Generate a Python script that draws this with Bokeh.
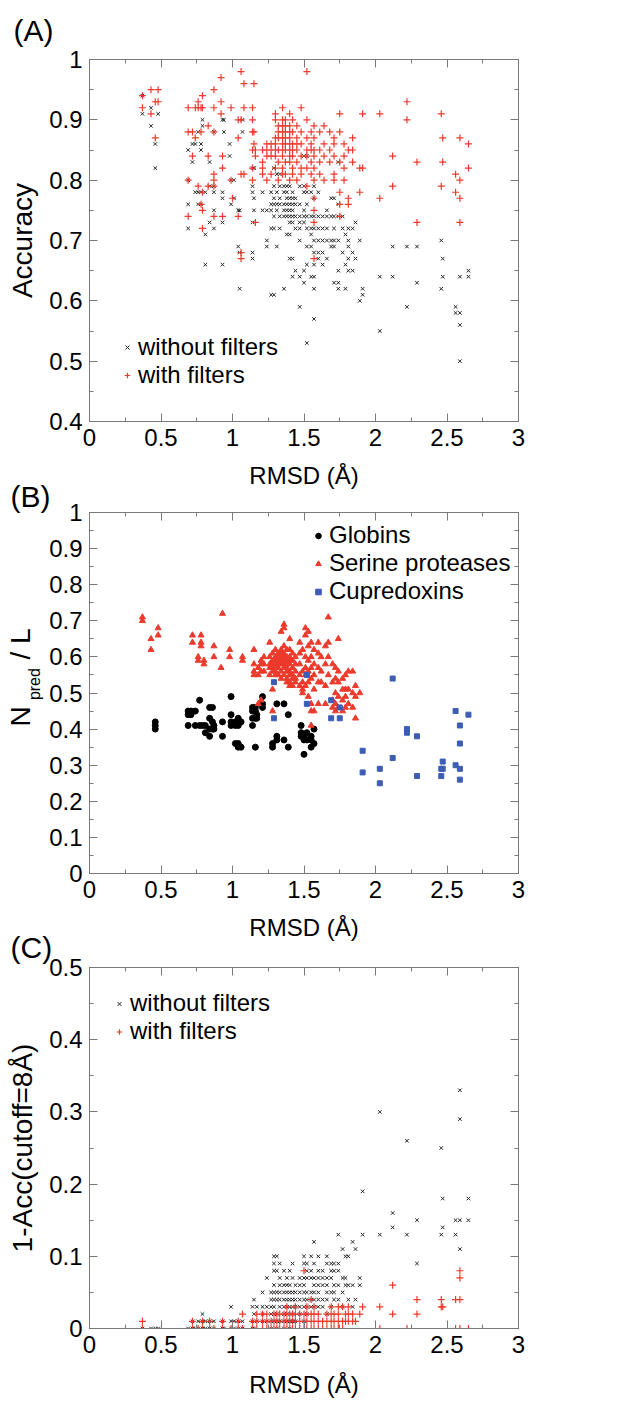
from bokeh.plotting import figure
from bokeh.models import (FixedTicker, CustomJSTickFormatter, LinearAxis,
                          Legend, LegendItem, Range1d)
from bokeh.layouts import column
from bokeh.embed import file_html
from bokeh.resources import INLINE

FONT = "Liberation Sans"
RED = "#ec3a2c"
BLACK = "#262626"
BLUE = "#3d5db4"
FRAME = "#7a7a7a"
NB = "\u00a0"

# ---------------- data -----------------
# Panel A: accuracy vs RMSD (columns of RMSD with their accuracy values)
a_nf_rmsd = [0.37, 0.43, 0.46, 0.48, 0.69, 0.72, 0.74, 0.76, 0.78, 0.79, 0.81, 0.84, 0.87,
             0.93, 0.94, 0.98, 0.99, 1.01, 1.04, 1.05, 1.07, 1.14, 1.15, 1.21, 1.24, 1.27,
             1.29, 1.31, 1.33, 1.36, 1.38, 1.40, 1.42, 1.44, 1.47, 1.50, 1.52, 1.55, 1.57,
             1.60, 1.63, 1.66, 1.69, 1.71, 1.74, 1.77, 1.79, 1.81, 1.84, 1.86, 1.89, 1.91,
             2.03, 2.12, 2.22, 2.29, 2.46, 2.47, 2.56, 2.59, 2.65]
a_nf_acc = [[0.94, 0.91], [0.92, 0.89], [0.86, 0.82], [0.91], [0.85, 0.80, 0.76, 0.72],
            [0.86, 0.83], [0.86, 0.78], [0.88, 0.78, 0.76], [0.86, 0.85, 0.78, 0.76],
            [0.90, 0.89], [0.78, 0.71, 0.66], [0.83, 0.79, 0.73], [0.88, 0.79, 0.78, 0.75, 0.72],
            [0.90, 0.78, 0.77, 0.73, 0.66], [0.90, 0.88], [0.86, 0.84], [0.80, 0.76], [0.80, 0.77],
            [0.75, 0.69], [0.75, 0.68, 0.62], [0.90, 0.88], [0.82, 0.79, 0.78, 0.73, 0.68, 0.67],
            [0.82, 0.77, 0.75], [0.78, 0.75], [0.75, 0.70, 0.69], [0.78, 0.76, 0.75, 0.72, 0.61],
            [0.82, 0.79, 0.77, 0.76, 0.74, 0.72, 0.61], [0.81, 0.78, 0.76, 0.75, 0.69],
            [0.81, 0.79, 0.77, 0.76, 0.74, 0.72], [0.79, 0.78, 0.76, 0.75, 0.74, 0.62],
            [0.79, 0.78, 0.77, 0.76, 0.75, 0.74, 0.71], [0.79, 0.77, 0.76, 0.75, 0.74, 0.73, 0.71, 0.67],
            [0.78, 0.77, 0.76, 0.75, 0.74, 0.73, 0.67, 0.64], [0.77, 0.76, 0.74, 0.72, 0.65],
            [0.79, 0.76, 0.74, 0.73, 0.72, 0.70, 0.64, 0.59], [0.84, 0.79, 0.78, 0.75, 0.74, 0.73, 0.65, 0.63],
            [0.84, 0.78, 0.76, 0.74, 0.72, 0.69, 0.66, 0.53], [0.78, 0.74, 0.72, 0.71, 0.69, 0.64],
            [0.79, 0.77, 0.74, 0.72, 0.70, 0.68, 0.66, 0.64, 0.62, 0.57], [0.78, 0.74, 0.72, 0.70, 0.68, 0.67],
            [0.74, 0.72, 0.70, 0.68, 0.66], [0.75, 0.74, 0.72, 0.70, 0.67], [0.77, 0.74, 0.70, 0.69],
            [0.77, 0.74, 0.72, 0.70, 0.69, 0.63], [0.83, 0.76, 0.74, 0.70, 0.65, 0.63, 0.62],
            [0.74, 0.72, 0.68], [0.71, 0.66, 0.62], [0.72, 0.70, 0.69, 0.67, 0.65], [0.72, 0.68, 0.65],
            [0.73, 0.67], [0.70, 0.60], [0.62, 0.61], [0.64, 0.55], [0.69, 0.64], [0.69, 0.59],
            [0.69, 0.63], [0.70, 0.62], [0.67, 0.64], [0.59, 0.58], [0.64, 0.58, 0.56, 0.50], [0.65, 0.64]]

a_wf_rmsd = [0.37, 0.43, 0.46, 0.48, 0.69, 0.72, 0.74, 0.76, 0.78, 0.79, 0.83, 0.87, 0.92, 0.93,
             0.99, 1.00, 1.04, 1.06, 1.08, 1.14, 1.15, 1.16, 1.21, 1.24, 1.27, 1.30, 1.32, 1.35,
             1.37, 1.40, 1.42, 1.45, 1.48, 1.52, 1.55, 1.57, 1.61, 1.64, 1.68, 1.71, 1.75, 1.78,
             1.81, 1.84, 1.89, 1.91, 2.03, 2.12, 2.22, 2.29, 2.46, 2.47, 2.56, 2.59, 2.65]
a_wf_acc = [[0.94, 0.92], [0.95, 0.91], [0.93, 0.87], [0.95, 0.93], [0.92, 0.88, 0.80, 0.74],
            [0.88, 0.84], [0.92, 0.87], [0.93, 0.92, 0.79], [0.92, 0.88, 0.76],
            [0.94, 0.92, 0.78, 0.75, 0.72], [0.89, 0.84, 0.79], [0.95, 0.92, 0.88, 0.81, 0.80, 0.79, 0.74],
            [0.97, 0.93, 0.91], [0.84, 0.82, 0.74], [0.92, 0.80], [0.77], [0.90, 0.87, 0.74],
            [0.98, 0.90, 0.81, 0.68, 0.67], [0.96, 0.92, 0.81], [0.92, 0.90, 0.88, 0.85, 0.82, 0.80],
            [0.96, 0.88, 0.86], [0.85, 0.84, 0.73], [0.85, 0.83, 0.82, 0.81], [0.86, 0.85, 0.84, 0.80],
            [0.86, 0.85, 0.84, 0.81], [0.91, 0.90, 0.87, 0.86, 0.85, 0.84, 0.82],
            [0.89, 0.88, 0.87, 0.85, 0.83, 0.80], [0.92, 0.90, 0.89, 0.88, 0.87, 0.86, 0.85, 0.84, 0.82, 0.81],
            [0.90, 0.89, 0.88, 0.87, 0.86, 0.85, 0.83, 0.81], [0.91, 0.89, 0.88, 0.87, 0.86, 0.85, 0.84, 0.83, 0.80],
            [0.90, 0.88, 0.86, 0.85, 0.84, 0.82, 0.81], [0.89, 0.87, 0.86, 0.85, 0.83, 0.80],
            [0.92, 0.88, 0.86, 0.84, 0.82, 0.81], [0.98, 0.90, 0.87, 0.85, 0.84, 0.82, 0.79],
            [0.88, 0.86, 0.85, 0.83, 0.81], [0.89, 0.87, 0.85, 0.84, 0.82, 0.80, 0.77, 0.75, 0.73, 0.67],
            [0.88, 0.85, 0.83, 0.81], [0.89, 0.86, 0.84, 0.80], [0.88, 0.85, 0.83],
            [0.87, 0.86, 0.84, 0.81, 0.80], [0.91, 0.88, 0.83, 0.78, 0.76, 0.74], [0.86, 0.84, 0.82, 0.80],
            [0.85, 0.77, 0.76], [0.87, 0.85, 0.83], [0.82, 0.78], [0.91, 0.82], [0.91, 0.77],
            [0.84, 0.79], [0.93, 0.90], [0.83, 0.73], [0.91, 0.79], [0.87, 0.83], [0.81, 0.78],
            [0.87, 0.80, 0.77, 0.73], [0.86, 0.82]]

# Panel B: Npred/L vs RMSD per protein family
glob_rmsd = [0.46, 0.69, 0.71, 0.74, 0.77, 0.79, 0.81, 0.84, 0.86, 0.87, 0.93, 0.99, 1.02, 1.04,
             1.06, 1.14, 1.16, 1.17, 1.21, 1.28, 1.31, 1.36, 1.39, 1.48, 1.50, 1.52, 1.55, 1.57]
glob_npl = [[0.42, 0.41, 0.40], [0.45, 0.44, 0.41], [0.45, 0.44], [0.45, 0.41], [0.48, 0.41], [0.41],
            [0.41, 0.39], [0.46, 0.43, 0.40, 0.38], [0.46, 0.42, 0.40], [0.41, 0.40], [0.42, 0.38],
            [0.49, 0.44, 0.42, 0.41], [0.42, 0.41, 0.36], [0.43, 0.41, 0.36, 0.35], [0.42, 0.35],
            [0.46, 0.45, 0.43, 0.41], [0.46, 0.45, 0.43, 0.35], [0.44, 0.43], [0.49, 0.47, 0.46],
            [0.36, 0.35], [0.47, 0.38, 0.37], [0.47, 0.37], [0.44, 0.35], [0.41, 0.39, 0.38],
            [0.38, 0.37, 0.33], [0.39, 0.37], [0.38, 0.37, 0.35], [0.40, 0.36]]

ser_rmsd = [0.37, 0.43, 0.48, 0.72, 0.76, 0.78, 0.80, 0.87, 0.92, 0.93, 0.98, 1.07, 1.15, 1.18,
            1.20, 1.22, 1.26, 1.28, 1.30, 1.32, 1.34, 1.36, 1.38, 1.40, 1.42, 1.44, 1.47, 1.49,
            1.51, 1.53, 1.55, 1.57, 1.60, 1.62, 1.65, 1.67, 1.70, 1.72, 1.74, 1.77, 1.79, 1.81,
            1.84, 1.86, 1.89]
ser_npl = [[0.71, 0.70], [0.65, 0.62], [0.68, 0.66], [0.66, 0.64], [0.60, 0.59], [0.66, 0.64, 0.63],
           [0.59, 0.58], [0.63, 0.60], [0.57], [0.72], [0.62, 0.60], [0.60, 0.59],
           [0.62, 0.58, 0.56, 0.55], [0.57, 0.55, 0.47], [0.59, 0.58, 0.56, 0.48], [0.60, 0.58, 0.56],
           [0.64, 0.60, 0.58, 0.57, 0.55], [0.61, 0.59, 0.58, 0.57, 0.56, 0.51, 0.45],
           [0.62, 0.60, 0.59, 0.58, 0.57, 0.56, 0.55], [0.61, 0.60, 0.59, 0.58, 0.57, 0.55],
           [0.67, 0.62, 0.61, 0.60, 0.59, 0.58, 0.56, 0.54], [0.69, 0.68, 0.63, 0.61, 0.60, 0.59, 0.58, 0.57, 0.55],
           [0.62, 0.60, 0.59, 0.58, 0.57, 0.56, 0.54, 0.53], [0.65, 0.62, 0.60, 0.59, 0.58, 0.56, 0.55, 0.53, 0.52],
           [0.61, 0.59, 0.57, 0.55, 0.54, 0.52], [0.60, 0.58, 0.56, 0.54, 0.53],
           [0.64, 0.61, 0.58, 0.55, 0.52], [0.62, 0.56, 0.53, 0.51, 0.50],
           [0.68, 0.66, 0.60, 0.57, 0.55, 0.52], [0.67, 0.63, 0.59, 0.56, 0.53, 0.49],
           [0.64, 0.60, 0.57, 0.54, 0.47, 0.45, 0.41], [0.62, 0.58, 0.55, 0.51, 0.45],
           [0.64, 0.61, 0.57, 0.53, 0.47], [0.60, 0.56, 0.53], [0.63, 0.58, 0.52, 0.47],
           [0.71, 0.64, 0.60, 0.55], [0.58, 0.53, 0.48, 0.46], [0.57, 0.54, 0.50, 0.47, 0.45],
           [0.65, 0.56, 0.53, 0.49, 0.46], [0.54, 0.51, 0.48, 0.45], [0.55, 0.51, 0.49, 0.46],
           [0.56, 0.51, 0.47], [0.56, 0.50, 0.46], [0.52, 0.49, 0.43], [0.50]]

cup_rmsd = [1.29, 1.52, 1.69, 1.75, 1.91, 2.03, 2.12, 2.22, 2.29, 2.46, 2.47, 2.56, 2.59, 2.65]
cup_npl = [[0.53, 0.43], [0.55, 0.47], [0.48, 0.43], [0.46, 0.43], [0.34, 0.28], [0.29, 0.25],
           [0.54, 0.32], [0.40, 0.39], [0.38, 0.27], [0.29, 0.27], [0.31, 0.29], [0.45, 0.30],
           [0.41, 0.36, 0.29, 0.26], [0.44]]

# Panel C: 1 - accuracy (cutoff = 8 A) vs RMSD
c_nf_rmsd = [0.37, 0.43, 0.46, 0.48, 0.69, 0.72, 0.74, 0.76, 0.79, 0.81, 0.84, 0.87, 0.93, 0.94,
             0.99, 1.01, 1.04, 1.07, 1.14, 1.15, 1.17, 1.21, 1.24, 1.27, 1.29, 1.31, 1.33, 1.36,
             1.38, 1.40, 1.42, 1.44, 1.47, 1.50, 1.52, 1.55, 1.57, 1.60, 1.63, 1.66, 1.69, 1.71,
             1.74, 1.77, 1.79, 1.81, 1.84, 1.86, 1.89, 1.91, 2.03, 2.12, 2.22, 2.29, 2.46, 2.47,
             2.56, 2.59, 2.65]
c_nf_err = [[0.00], [0.00], [0.00], [0.00], [0.00], [0.01, 0.00], [0.00], [0.01, 0.00],
            [0.02, 0.01, 0.00], [0.01, 0.00], [0.01, 0.00], [0.01, 0.00], [0.01, 0.00], [0.00],
            [0.03, 0.01, 0.00], [0.01, 0.00], [0.01, 0.00], [0.01, 0.00], [0.03, 0.01, 0.00],
            [0.04, 0.02, 0.00], [0.03, 0.01], [0.05, 0.03, 0.02, 0.01], [0.07, 0.03, 0.01],
            [0.05, 0.04, 0.03, 0.02, 0.01, 0.00], [0.10, 0.09, 0.08, 0.06, 0.05, 0.04, 0.03, 0.02, 0.01],
            [0.10, 0.08, 0.05, 0.04, 0.02, 0.01, 0.00], [0.09, 0.07, 0.06, 0.05, 0.04, 0.03, 0.01],
            [0.08, 0.06, 0.05, 0.04, 0.03, 0.02, 0.01, 0.00], [0.07, 0.06, 0.05, 0.04, 0.03, 0.02, 0.01],
            [0.08, 0.06, 0.05, 0.04, 0.03, 0.01, 0.00], [0.09, 0.07, 0.05, 0.04, 0.03, 0.02, 0.01],
            [0.06, 0.05, 0.04, 0.03, 0.01], [0.07, 0.06, 0.05, 0.04, 0.03, 0.02],
            [0.10, 0.09, 0.07, 0.06, 0.05, 0.04, 0.03, 0.01], [0.09, 0.08, 0.07, 0.05, 0.04, 0.03, 0.02],
            [0.10, 0.08, 0.07, 0.05, 0.04, 0.03], [0.12, 0.09, 0.07, 0.06, 0.05, 0.04, 0.03],
            [0.10, 0.08, 0.07, 0.06, 0.05, 0.04, 0.03], [0.08, 0.07, 0.06, 0.04, 0.03],
            [0.10, 0.09, 0.07, 0.06, 0.05, 0.04, 0.02], [0.09, 0.08, 0.07, 0.05, 0.03],
            [0.09, 0.08, 0.06, 0.05, 0.04], [0.13, 0.09, 0.08, 0.06, 0.04], [0.11, 0.07, 0.05, 0.03],
            [0.10, 0.07, 0.06], [0.10, 0.06, 0.04], [0.12, 0.06, 0.03], [0.11, 0.04], [0.07, 0.06],
            [0.19, 0.13], [0.30, 0.13], [0.16, 0.14], [0.26, 0.13], [0.15, 0.09], [0.25, 0.13],
            [0.18, 0.14], [0.15, 0.13], [0.33, 0.29, 0.15, 0.11], [0.18, 0.15]]

c_wf_rmsd = [0.37, 0.72, 0.76, 0.79, 0.84, 0.87, 0.93, 0.99, 1.04, 1.07, 1.14, 1.17, 1.21, 1.24,
             1.27, 1.29, 1.31, 1.33, 1.36, 1.38, 1.40, 1.42, 1.44, 1.47, 1.50, 1.52, 1.55, 1.57,
             1.60, 1.63, 1.66, 1.69, 1.71, 1.74, 1.77, 1.79, 1.81, 1.84, 1.86, 1.89, 1.91, 2.03,
             2.12, 2.22, 2.29, 2.46, 2.47, 2.56, 2.59, 2.65]
c_wf_err = [[0.01, 0.00], [0.01, 0.00], [0.00], [0.01, 0.00], [0.01, 0.00], [0.00], [0.01, 0.00],
            [0.00], [0.01, 0.00], [0.02, 0.00], [0.01, 0.00], [0.02, 0.01, 0.00], [0.02, 0.01, 0.00],
            [0.02, 0.01, 0.00], [0.01, 0.00], [0.02, 0.01, 0.00], [0.02, 0.01, 0.00], [0.02, 0.01, 0.00],
            [0.02, 0.01, 0.00], [0.03, 0.02, 0.01, 0.00], [0.02, 0.01, 0.00], [0.02, 0.01, 0.00],
            [0.03, 0.02, 0.01, 0.00], [0.02, 0.01, 0.00], [0.08, 0.02, 0.01, 0.00], [0.03, 0.02, 0.01, 0.00],
            [0.04, 0.02, 0.01, 0.00], [0.03, 0.02, 0.01, 0.00], [0.02, 0.01, 0.00], [0.01, 0.00],
            [0.02, 0.01, 0.00], [0.03, 0.02, 0.01, 0.00], [0.02, 0.01, 0.00], [0.03, 0.02, 0.01, 0.00],
            [0.03, 0.01, 0.00], [0.02, 0.01], [0.03, 0.02, 0.01], [0.02, 0.01], [0.01], [0.02], [0.03],
            [0.03, 0.00], [0.06, 0.02], [0.00], [0.04, 0.02], [0.04, 0.03], [0.03], [0.04, 0.00],
            [0.08, 0.07, 0.04, 0.00], [0.00]]

x_ticks = [0, 0.5, 1, 1.5, 2, 2.5, 3]
x_minor = [0.25, 0.75, 1.25, 1.75, 2.25, 2.75]
a_yticks = [0.4, 0.5, 0.6, 0.7, 0.8, 0.9, 1.0]
a_yminor = [0.45, 0.55, 0.65, 0.75, 0.85, 0.95]
b_yticks = [0, 0.1, 0.2, 0.3, 0.4, 0.5, 0.6, 0.7, 0.8, 0.9, 1.0]
b_yminor = [0.05, 0.15, 0.25, 0.35, 0.45, 0.55, 0.65, 0.75, 0.85, 0.95]
c_yticks = [0, 0.1, 0.2, 0.3, 0.4, 0.5]
c_yminor = [0.05, 0.15, 0.25, 0.35, 0.45]


def flat(xs, yss):
    fx = [x for x, ys in zip(xs, yss) for _ in ys]
    fy = [y for ys in yss for y in ys]
    return fx, fy


FMT = "return String(Math.round(tick*100)/100)"


def style_axis(ax, labels=True):
    ax.axis_line_color = FRAME
    ax.major_tick_line_color = FRAME
    ax.minor_tick_line_color = FRAME
    ax.major_tick_in = 8
    ax.major_tick_out = 0
    ax.minor_tick_in = 4
    ax.minor_tick_out = 0
    if labels:
        ax.major_label_text_font = FONT
        ax.major_label_text_font_size = "24px"
        ax.major_label_text_color = "black"
        ax.major_label_standoff = 7
        ax.formatter = CustomJSTickFormatter(code=FMT)
    else:
        ax.major_label_text_font_size = "1px"
        ax.major_label_standoff = 0
        ax.formatter = CustomJSTickFormatter(code="return ''")
    ax.axis_label_text_font = FONT
    ax.axis_label_text_font_style = "normal"
    ax.axis_label_text_color = "black"


def make_fig(y0, y1, yt, ym, fh, top, bottom, panel, title_offset, title_standoff, shift,
             valign="bottom"):
    p = figure(frame_width=429, frame_height=fh,
               x_range=Range1d(0, 3), y_range=Range1d(y0, y1),
               output_backend="svg", toolbar_location=None,
               min_border_left=89, min_border_right=30, min_border_top=top, min_border_bottom=bottom,
               background_fill_color=None, border_fill_color=None,
               outline_line_color=FRAME)
    if shift:
        p.styles = {"margin-top": f"-{shift}px"}
    p.title.text = panel
    p.title.align = "left"
    p.title.vertical_align = valign
    p.title.offset = title_offset
    p.title.standoff = title_standoff
    p.title.text_font = FONT
    p.title.text_font_size = "30px"
    p.title.text_font_style = "normal"
    p.title.text_color = "black"
    p.xgrid.visible = False
    p.ygrid.visible = False
    bottom_ax = p.below[0]
    left_ax = p.left[0]
    bottom_ax.ticker = FixedTicker(ticks=x_ticks, minor_ticks=x_minor)
    left_ax.ticker = FixedTicker(ticks=yt, minor_ticks=ym)
    style_axis(bottom_ax)
    style_axis(left_ax)
    top_ax = LinearAxis(ticker=FixedTicker(ticks=x_ticks, minor_ticks=x_minor))
    right_ax = LinearAxis(ticker=FixedTicker(ticks=yt, minor_ticks=ym))
    style_axis(top_ax, labels=False)
    style_axis(right_ax, labels=False)
    p.add_layout(top_ax, "above")
    p.add_layout(right_ax, "right")
    return p, bottom_ax, left_ax


def make_legend(items, loc, lh):
    return Legend(items=items, location=loc, border_line_color=None, background_fill_alpha=0,
                  label_text_font=FONT, label_text_font_size="24px", label_text_color="black",
                  glyph_width=14, glyph_height=lh, label_height=lh, spacing=0, padding=0,
                  margin=0, label_standoff=4)


# ---------------- Panel A -----------------
pA, pA_x, pA_y = make_fig(0.4, 1.0, a_yticks, a_yminor, 362, 59, 74, "(A)", -76, 22, 0,
                          valign="top")
pA_y.axis_label = "Accuracy"
pA_y.axis_label_text_font_size = "28px"
pA_y.axis_label_standoff = 8
pA_x.axis_label = "RMSD (Å)"
pA_x.axis_label_text_font_size = "24px"
pA_x.axis_label_standoff = 13
ax_, ay_ = flat(a_nf_rmsd, a_nf_acc)
rA1 = pA.scatter(ax_, ay_, marker="x", size=5, line_color=BLACK, line_width=1)
ax_, ay_ = flat(a_wf_rmsd, a_wf_acc)
rA2 = pA.scatter(ax_, ay_, marker="cross", size=7, line_color=RED, line_width=1.2)
pA.add_layout(make_legend([LegendItem(label="without filters", renderers=[rA1]),
                           LegendItem(label="with filters", renderers=[rA2])], (31, 32), 26))

# ---------------- Panel B -----------------
pB, pB_x, pB_y = make_fig(0.0, 1.0, b_yticks, b_yminor, 361, 44, 74, "(B)", -79, 0, 27)
pB_x.axis_label = "RMSD (Å)"
pB_x.axis_label_text_font_size = "24px"
pB_x.axis_label_standoff = 13
# y label "N_pred / L": subscript on the tick axis, main part on an outer label-only axis
pB_y.axis_label = NB * 4 + "pred"
pB_y.axis_label_text_font_size = "16px"
pB_y.axis_label_standoff = 3
outer = LinearAxis(ticker=FixedTicker(ticks=[]), axis_line_color=None,
                   major_tick_in=0, major_tick_out=0, minor_tick_in=0, minor_tick_out=0,
                   major_label_standoff=0, major_label_text_font_size="1px",
                   axis_label=NB * 4 + "N" + NB * 6 + "/ L", axis_label_standoff=-12,
                   axis_label_text_font=FONT, axis_label_text_font_size="28px",
                   axis_label_text_font_style="normal", axis_label_text_color="black")
pB.add_layout(outer, "left")
bx, by = flat(glob_rmsd, glob_npl)
rB1 = pB.scatter(bx, by, marker="circle", size=6, fill_color="black", line_color="black")
bx, by = flat(ser_rmsd, ser_npl)
rB2 = pB.scatter(bx, by, marker="triangle", size=6, fill_color=RED, line_color=RED)
bx, by = flat(cup_rmsd, cup_npl)
rB3 = pB.scatter(bx, by, marker="square", size=5, fill_color=BLUE, line_color=BLUE)
pB.add_layout(make_legend([LegendItem(label="Globins", renderers=[rB1]),
                           LegendItem(label="Serine proteases", renderers=[rB2]),
                           LegendItem(label="Cupredoxins", renderers=[rB3])], (222, 268), 27))

# ---------------- Panel C -----------------
pC, pC_x, pC_y = make_fig(0.0, 0.5, c_yticks, c_yminor, 361, 44, 76, "(C)", -79, 8, 24)
pC_y.axis_label = "1-Acc(cutoff=8Å)"
pC_y.axis_label_text_font_size = "28px"
pC_y.axis_label_standoff = 8
pC_x.axis_label = "RMSD (Å)"
pC_x.axis_label_text_font_size = "24px"
pC_x.axis_label_standoff = 15
cx, cy = flat(c_nf_rmsd, c_nf_err)
rC1 = pC.scatter(cx, cy, marker="x", size=5, line_color=BLACK, line_width=1)
cx, cy = flat(c_wf_rmsd, c_wf_err)
rC2 = pC.scatter(cx, cy, marker="cross", size=7, line_color=RED, line_width=1.2)
pC.add_layout(make_legend([LegendItem(label="without filters", renderers=[rC1]),
                           LegendItem(label="with filters", renderers=[rC2])], (23, 283), 25))

layout = column(pA, pB, pC, spacing=0)
open("out.html", "w").write(file_html(layout, INLINE, title="RMSD plots"))
